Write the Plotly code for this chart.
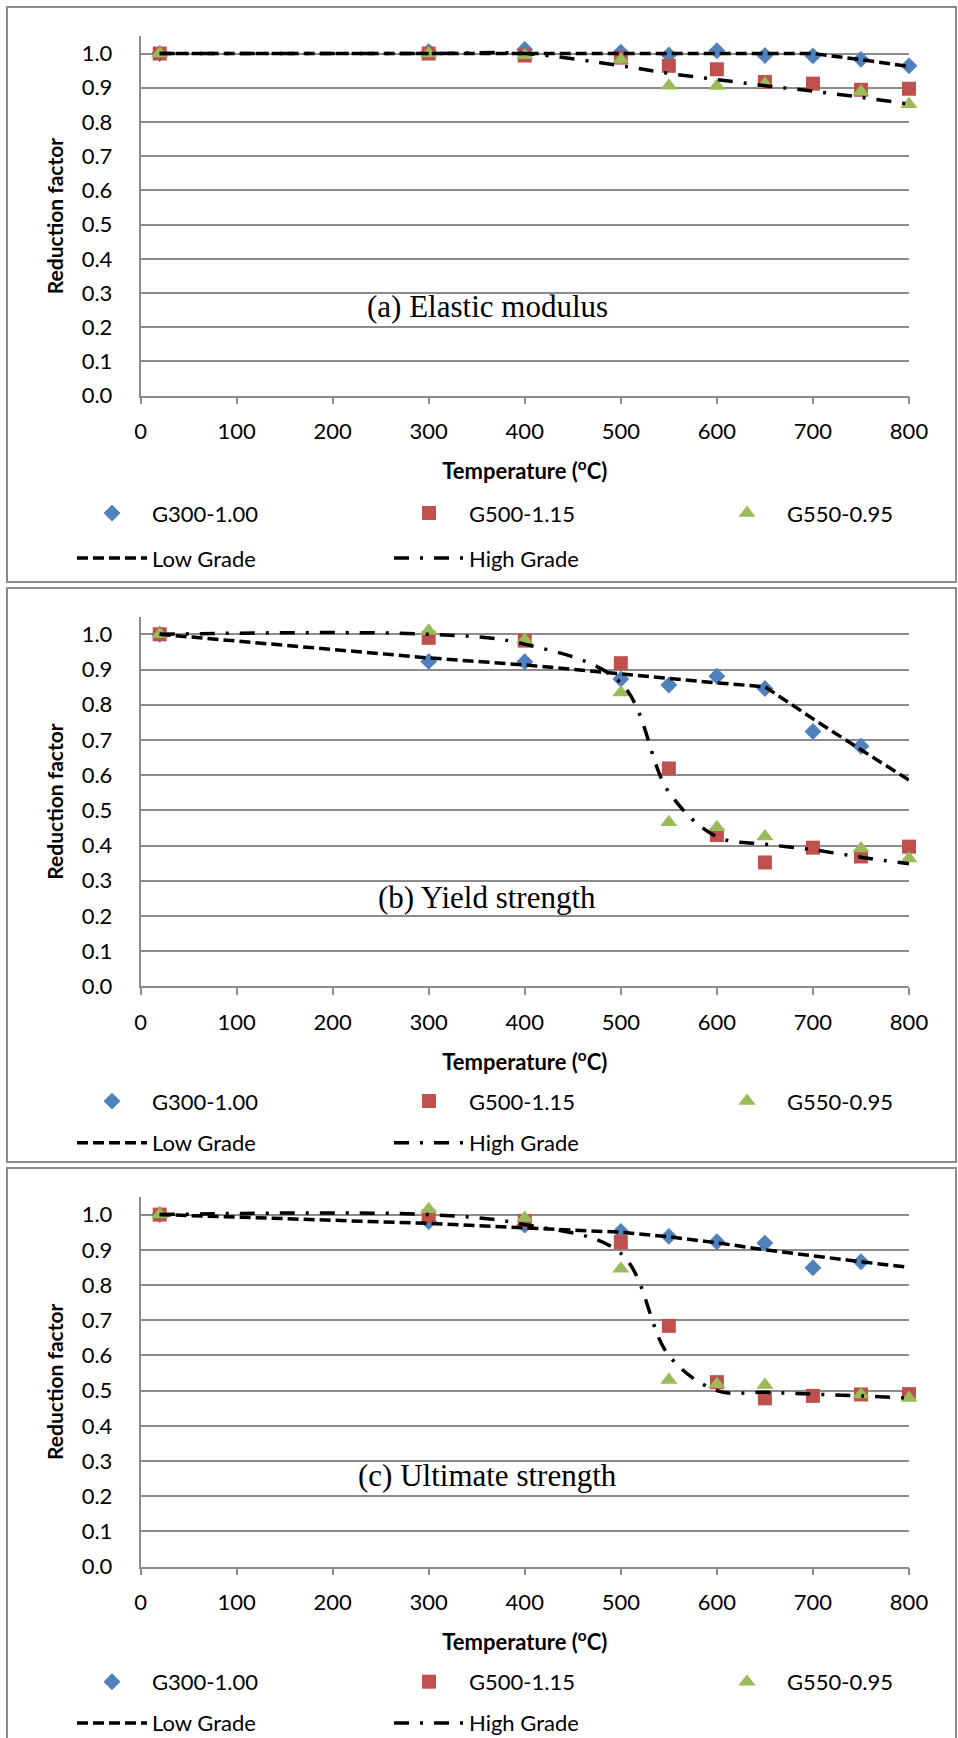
import plotly.graph_objects as go

# ---------------- data ----------------
temps = [20, 300, 400, 500, 550, 600, 650, 700, 750, 800]
x_ticks = [0, 100, 200, 300, 400, 500, 600, 700, 800]
y_ticks = [0.0, 0.1, 0.2, 0.3, 0.4, 0.5, 0.6, 0.7, 0.8, 0.9, 1.0]

series_names = ["G300-1.00", "G500-1.15", "G550-0.95"]
line_names = ["Low Grade", "High Grade"]
panel_labels = ["(a) Elastic modulus", "(b) Yield strength", "(c) Ultimate strength"]

# (a) Elastic modulus
a_g300 = [1.0, 1.005, 1.012, 1.004, 0.996, 1.008, 0.994, 0.993, 0.983, 0.964]
a_g500 = [1.0, 1.0, 0.994, 0.988, 0.964, 0.954, 0.917, 0.912, 0.894, 0.897]
a_g550 = [1.0, 1.0, 0.995, 0.982, 0.906, 0.905, 0.911, None, 0.888, 0.852]
a_low = [1.0, 1.0, 1.0, 1.0, 1.0, 1.0, 1.0, 1.0, 0.982, 0.962]
a_high = [1.0, 1.0, 1.0, 0.964, 0.942, 0.924, 0.906, 0.89, 0.872, 0.852]

# (b) Yield strength
b_g300 = [1.0, 0.923, 0.922, 0.873, 0.856, 0.881, 0.846, 0.724, 0.682, None]
b_g500 = [1.0, 0.99, 0.982, 0.918, 0.619, 0.43, 0.352, 0.394, 0.369, 0.397]
b_g550 = [1.0, 1.01, 0.984, 0.835, 0.466, 0.452, 0.426, None, 0.392, 0.363]
b_low = [1.0, 0.933, 0.913, 0.887, 0.873, 0.862, 0.851, 0.76, 0.672, 0.586]
b_high = [1.0, 1.0, 0.972, 0.862, 0.552, 0.425, 0.404, 0.388, 0.367, 0.348]

# (c) Ultimate strength
c_g300 = [1.0, 0.98, 0.97, 0.952, 0.938, 0.923, 0.919, 0.849, 0.866, None]
c_g500 = [1.0, 0.995, 0.982, 0.922, 0.684, 0.524, 0.478, 0.485, 0.489, 0.49]
c_g550 = [1.0, 1.015, 0.99, 0.846, 0.53, 0.518, 0.516, None, 0.489, 0.479]
c_low = [1.0, 0.975, 0.962, 0.95, 0.937, 0.92, 0.90, 0.882, 0.866, 0.85]
c_high = [1.0, 1.0, 0.972, 0.89, 0.6, 0.5, 0.495, 0.49, 0.485, 0.479]

# ---------------- style / layout ----------------
W, H = 958, 1738
BLUE, RED, GREEN = "#4F81BD", "#C0504D", "#9BBB59"
GRID = "#8C8C8C"
SANS = "Lato, Carlito, 'Liberation Sans', sans-serif"
SERIF = "'Liberation Serif', 'Times New Roman', serif"

def fx(p):
    return p / W

def fy(p):
    return 1 - p / H

x_dom = [fx(140.5), fx(909)]

panels = [
    dict(data=(a_g300, a_g500, a_g550, a_low, a_high), y0=395.7, ytop=36.4,
         label_y=0.262, rows=(513, 558), box=(7, 582)),
    dict(data=(b_g300, b_g500, b_g550, b_low, b_high), y0=986.4, ytop=616.7,
         label_y=0.252, rows=(1101, 1142.6), box=(588, 1162)),
    dict(data=(c_g300, c_g500, c_g550, c_low, c_high), y0=1566.6, ytop=1197,
         label_y=0.260, rows=(1681.6, 1722.8), box=(1168, 1745)),
]

marker_styles = [
    dict(symbol="diamond", size=13, color=BLUE),
    dict(symbol="square", size=14, color=RED),
    dict(symbol="triangle-up", size=15, color=GREEN),
]
line_styles = [
    dict(width=3.5, dash="11px,5px"),
    dict(width=3.5, dash="15px,11px,3px,11px"),
]
col_x = [72, 389, 707]
LEG_DY = 0.3

fig = go.Figure()
layout = dict(
    width=W, height=H, margin=dict(l=0, r=0, t=0, b=0, autoexpand=False),
    paper_bgcolor="white", plot_bgcolor="white", showlegend=True,
    font=dict(family=SANS, size=22, color="black"),
    shapes=[], annotations=[],
)

legend_idx = 0

def new_legend(col, row_y):
    global legend_idx
    legend_idx += 1
    key = "legend" if legend_idx == 1 else "legend%d" % legend_idx
    layout[key] = dict(
        orientation="v", x=fx(col_x[col]), xanchor="left", xref="paper",
        y=fy(row_y + LEG_DY), yanchor="middle", yref="paper",
        itemwidth=70, bgcolor="rgba(0,0,0,0)", borderwidth=0,
        font=dict(family=SANS, size=22, color="black"), valign="middle",
        visible=True,
    )
    return key

for i, p in enumerate(panels):
    sfx = "" if i == 0 else str(i + 1)
    xa, ya = "x" + sfx, "y" + sfx
    g300, g500, g550, low, high = p["data"]
    r1, r2 = p["rows"]
    for k, vals in enumerate((g300, g500, g550)):
        fig.add_trace(go.Scatter(
            x=temps, y=vals, mode="markers", name=series_names[k],
            marker=dict(symbol=marker_styles[k]["symbol"], size=marker_styles[k]["size"],
                        color=marker_styles[k]["color"], line=dict(width=0)),
            xaxis=xa, yaxis=ya, cliponaxis=False, showlegend=True,
            legend=new_legend(k, r1),
        ))
    for k, vals in enumerate((low, high)):
        fig.add_trace(go.Scatter(
            x=temps, y=vals, mode="lines", name=line_names[k],
            line=dict(color="black", width=line_styles[k]["width"], dash=line_styles[k]["dash"],
                      shape="spline" if k == 1 else "linear", smoothing=1.0),
            xaxis=xa, yaxis=ya, cliponaxis=False, showlegend=True,
            legend=new_legend(k, r2),
        ))
    ydom = [fy(p["y0"]), fy(p["ytop"])]
    layout["xaxis" + sfx] = dict(
        domain=x_dom, anchor=ya, range=[0, 800], tickvals=x_ticks,
        showgrid=False, zeroline=False, showline=True, linecolor=GRID, linewidth=1.5,
        ticks="outside", ticklen=7, tickcolor=GRID, tickwidth=1.5,
        ticklabelstandoff=8, tickfont=dict(family=SANS, size=22),
        title=dict(text="<b>Temperature (<sup>o</sup>C)</b>", standoff=21,
                   font=dict(family=SANS, size=22)),
    )
    layout["yaxis" + sfx] = dict(
        domain=ydom, anchor=xa, range=[0, 1.05], tickvals=y_ticks, tickformat=".1f",
        showgrid=True, gridcolor=GRID, gridwidth=1.5, zeroline=False,
        showline=True, linecolor=GRID, linewidth=1.5, ticks="",
        ticklabelstandoff=22, tickfont=dict(family=SANS, size=22),
        title=dict(text="<b>Reduction factor</b>", standoff=12,
                   font=dict(family=SANS, size=21)),
    )
    layout["annotations"].append(dict(
        text=panel_labels[i], x=360.7, y=p["label_y"], xref=xa, yref=ya,
        xanchor="center", yanchor="middle", showarrow=False,
        font=dict(family=SERIF, size=31, color="black"),
    ))
    layout["shapes"].append(dict(
        type="rect", xref="paper", yref="paper",
        x0=fx(7), x1=fx(956), y0=fy(p["box"][1]), y1=fy(p["box"][0]),
        line=dict(color=GRID, width=2), fillcolor="rgba(0,0,0,0)", layer="below",
    ))

fig.update_layout(**layout)
fig.write_html("out.html", config={"displayModeBar": False},
               post_script="document.body.style.margin='0';")
